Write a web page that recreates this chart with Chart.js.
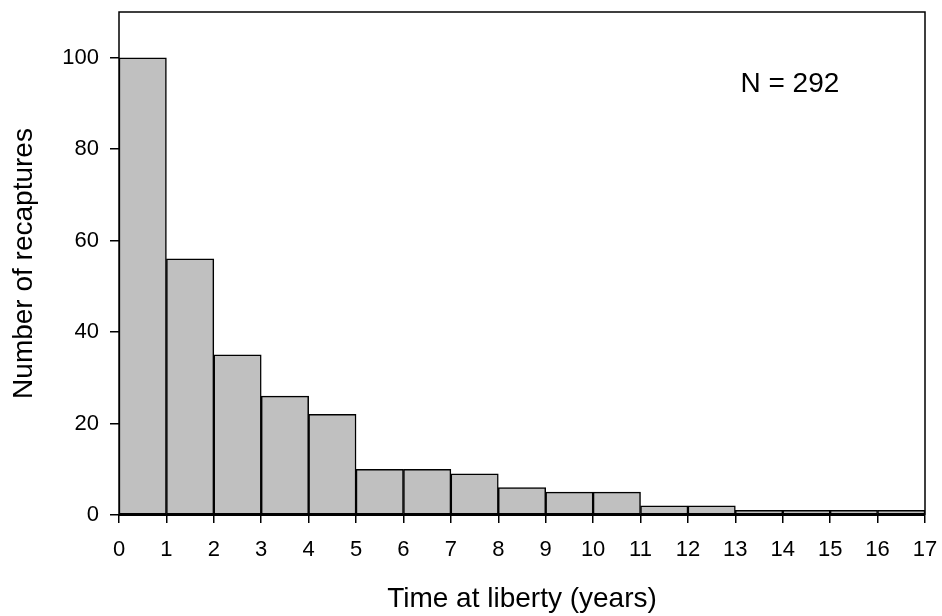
<!DOCTYPE html>
<html>
<head>
<meta charset="utf-8">
<script src="https://cdn.jsdelivr.net/npm/chart.js@4/dist/chart.umd.min.js"></script>
<style>
html,body{margin:0;padding:0;background:#fff;}
#wrap{width:942px;height:616px;position:relative;}
</style>
</head>
<body>
<div id="wrap"><canvas id="c" width="942" height="616"></canvas></div>
<script>
const binStarts = [0,1,2,3,4,5,6,7,8,9,10,11,12,13,14,15,16];
const recaptures = [100,56,35,26,22,10,10,9,6,5,5,2,2,1,1,1,1];
const yTicks = [0,20,40,60,80,100];
const xTicks = [0,1,2,3,4,5,6,7,8,9,10,11,12,13,14,15,16,17];
const annotationText = 'N = 292';
const annotationPos = {x: 14.15, y: 94.2};

const FONT = "'Liberation Sans', Arial, Helvetica, sans-serif";

const frame = {
  id: 'frame',
  afterDatasetsDraw(chart) {
    const {ctx, chartArea: a, scales} = chart;
    ctx.save();
    ctx.strokeStyle = '#000';
    ctx.lineWidth = 1.5;
    ctx.beginPath();
    ctx.moveTo(a.left, a.bottom);
    ctx.lineTo(a.left, a.top);
    ctx.lineTo(a.right, a.top);
    ctx.lineTo(a.right, a.bottom);
    ctx.stroke();
    ctx.lineWidth = 2;
    ctx.beginPath();
    ctx.moveTo(a.left, a.bottom);
    ctx.lineTo(a.right, a.bottom);
    ctx.stroke();
    ctx.fillStyle = '#000';
    ctx.font = '28px ' + FONT;
    ctx.textAlign = 'center';
    ctx.textBaseline = 'middle';
    ctx.fillText(annotationText, scales.x.getPixelForValue(annotationPos.x), scales.y.getPixelForValue(annotationPos.y));
    ctx.restore();
  }
};

new Chart(document.getElementById('c'), {
  type: 'bar',
  data: {
    datasets: [{
      data: binStarts.map((s, i) => ({x: s + 0.5, y: recaptures[i]})),
      backgroundColor: '#c0c0c0',
      borderColor: '#000',
      borderWidth: 1.5,
      borderSkipped: false,
      barPercentage: 1,
      categoryPercentage: 1
    }]
  },
  options: {
    responsive: false,
    animation: false,
    layout: {padding: {left: 0, right: 17, top: 12, bottom: 0}},
    plugins: {legend: {display: false}, tooltip: {enabled: false}},
    scales: {
      x: {
        type: 'linear',
        offset: false,
        min: 0, max: 17,
        afterBuildTicks(scale) { scale.ticks = xTicks.map(v => ({value: v})); },
        afterFit(scale) { scale.height = 101; scale.paddingLeft = 0; scale.paddingRight = 0; },
        ticks: {color: '#000', font: {family: FONT, size: 22}, padding: 14, maxRotation: 0, autoSkip: false},
        grid: {display: true, offset: false, drawOnChartArea: false, drawTicks: true, tickLength: 8, color: '#000', lineWidth: 1.5},
        border: {display: false},
        title: {display: true, text: 'Time at liberty (years)', color: '#000', font: {family: FONT, size: 28}, padding: {top: 12, bottom: 0}}
      },
      y: {
        min: 0, max: 110,
        afterBuildTicks(scale) { scale.ticks = yTicks.map(v => ({value: v})); },
        afterFit(scale) { scale.width = 119; scale.paddingTop = 0; scale.paddingBottom = 0; },
        ticks: {color: '#000', font: {family: FONT, size: 22}, padding: 11},
        grid: {display: true, drawOnChartArea: false, drawTicks: true, tickLength: 9, color: '#000', lineWidth: 1.5},
        border: {display: false},
        title: {display: true, text: 'Number of recaptures', color: '#000', font: {family: FONT, size: 28}, padding: {top: 7, bottom: 0}}
      }
    }
  },
  plugins: [frame]
});
</script>
</body>
</html>
